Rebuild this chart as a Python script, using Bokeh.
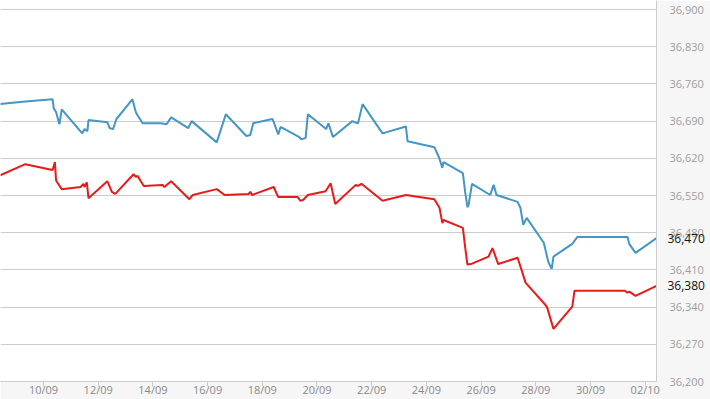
from datetime import datetime, timedelta
from bokeh.plotting import figure
from bokeh.models import FixedTicker, NumeralTickFormatter, DatetimeTickFormatter, Range1d, LinearAxis
from bokeh.embed import file_html
from bokeh.resources import INLINE

# ---- data ----
blue_times = ["2024-09-08 10:00", "2024-09-09 08:00", "2024-09-10 08:00", "2024-09-10 09:00", "2024-09-10 11:00",
              "2024-09-10 14:00", "2024-09-10 16:00", "2024-09-11 10:00", "2024-09-11 12:00", "2024-09-11 14:30",
              "2024-09-11 15:30", "2024-09-12 08:00", "2024-09-12 10:00", "2024-09-12 13:00", "2024-09-12 16:00",
              "2024-09-13 06:00", "2024-09-13 09:00", "2024-09-13 10:30", "2024-09-13 15:00", "2024-09-14 07:00",
              "2024-09-14 12:00", "2024-09-14 16:00", "2024-09-15 07:00", "2024-09-15 10:00", "2024-09-16 08:00",
              "2024-09-16 16:00", "2024-09-17 10:00", "2024-09-17 13:30", "2024-09-17 16:00", "2024-09-18 09:00",
              "2024-09-18 14:00", "2024-09-18 16:00", "2024-09-19 08:30", "2024-09-19 10:00", "2024-09-19 14:00",
              "2024-09-19 16:00", "2024-09-20 08:00", "2024-09-20 10:00", "2024-09-20 14:00", "2024-09-21 07:00",
              "2024-09-21 09:00", "2024-09-21 12:00", "2024-09-21 16:00", "2024-09-22 09:30", "2024-09-23 06:00",
              "2024-09-23 07:30", "2024-09-24 07:00", "2024-09-24 11:00", "2024-09-24 14:00", "2024-09-24 15:00",
              "2024-09-25 08:00", "2024-09-25 10:00", "2024-09-25 12:00", "2024-09-25 13:00", "2024-09-25 16:00",
              "2024-09-26 08:00", "2024-09-26 11:00", "2024-09-26 13:30", "2024-09-27 08:00", "2024-09-27 10:30",
              "2024-09-27 13:00", "2024-09-27 16:00", "2024-09-28 07:00", "2024-09-28 11:00", "2024-09-28 14:00",
              "2024-09-28 15:30", "2024-09-29 08:00", "2024-09-29 12:30", "2024-10-01 08:30", "2024-10-01 10:00",
              "2024-10-01 15:30", "2024-10-02 10:00"]
blue_values = [36722, 36727, 36731, 36714, 36707, 36684, 36712, 36667, 36675, 36671,
               36692, 36688, 36677, 36675, 36694, 36731, 36707, 36701, 36686, 36686,
               36684, 36697, 36677, 36690, 36650, 36703, 36662, 36664, 36686, 36694,
               36665, 36679, 36660, 36656, 36658, 36703, 36675, 36686, 36660, 36690,
               36688, 36686, 36722, 36667, 36680, 36652, 36641, 36622, 36602, 36613,
               36592, 36557, 36528, 36532, 36572, 36551, 36570, 36551, 36538, 36527,
               36495, 36508, 36461, 36425, 36412, 36435, 36459, 36472, 36472, 36459,
               36442, 36470]

red_times = ["2024-09-08 10:00", "2024-09-09 08:00", "2024-09-10 08:00", "2024-09-10 10:00", "2024-09-10 11:00",
             "2024-09-10 12:00", "2024-09-10 16:00", "2024-09-11 08:30", "2024-09-11 11:00", "2024-09-11 12:00",
             "2024-09-11 14:00", "2024-09-11 15:30", "2024-09-12 08:00", "2024-09-12 12:00", "2024-09-12 15:00",
             "2024-09-13 07:00", "2024-09-13 09:00", "2024-09-13 10:30", "2024-09-13 16:00", "2024-09-14 08:30",
             "2024-09-14 10:00", "2024-09-14 16:00", "2024-09-15 08:00", "2024-09-15 11:00", "2024-09-16 08:00",
             "2024-09-16 15:00", "2024-09-17 12:00", "2024-09-17 13:30", "2024-09-17 15:00", "2024-09-18 10:00",
             "2024-09-18 14:00", "2024-09-19 07:00", "2024-09-19 09:30", "2024-09-19 12:00", "2024-09-19 16:00",
             "2024-09-20 07:30", "2024-09-20 12:00", "2024-09-20 16:00", "2024-09-21 10:00", "2024-09-21 12:00",
             "2024-09-21 15:00", "2024-09-22 09:30", "2024-09-23 06:00", "2024-09-24 07:00", "2024-09-24 10:00",
             "2024-09-24 11:30", "2024-09-24 14:00", "2024-09-24 15:00", "2024-09-25 08:00", "2024-09-25 10:00",
             "2024-09-25 12:00", "2024-09-25 15:00", "2024-09-26 06:30", "2024-09-26 10:00", "2024-09-26 15:00",
             "2024-09-27 08:00", "2024-09-27 11:30", "2024-09-27 15:00", "2024-09-28 08:30", "2024-09-28 10:00",
             "2024-09-28 15:30", "2024-09-29 08:00", "2024-09-29 10:00", "2024-10-01 06:00", "2024-10-01 08:30",
             "2024-10-01 10:00", "2024-10-01 15:30", "2024-10-02 10:00"]
red_values = [36588, 36609, 36598, 36613, 36579, 36575, 36562, 36566, 36572, 36566,
              36575, 36545, 36577, 36557, 36553, 36590, 36585, 36587, 36568, 36570,
              36566, 36577, 36543, 36551, 36562, 36551, 36553, 36557, 36551, 36566,
              36547, 36547, 36540, 36542, 36551, 36558, 36573, 36534, 36570, 36568,
              36572, 36540, 36551, 36543, 36532, 36527, 36498, 36504, 36489, 36453,
              36420, 36421, 36435, 36451, 36421, 36433, 36410, 36386, 36344, 36339,
              36299, 36341, 36371, 36371, 36367, 36369, 36361, 36380]

y_ticks = [36200, 36270, 36340, 36410, 36480, 36550, 36620, 36690, 36760, 36830, 36900]
x_tick_dates = ["2024-09-10", "2024-09-12", "2024-09-14", "2024-09-16", "2024-09-18", "2024-09-20",
                "2024-09-22", "2024-09-24", "2024-09-26", "2024-09-28", "2024-09-30", "2024-10-02"]

# ---- build ----
def to_dt(s):
    return datetime.strptime(s, "%Y-%m-%d %H:%M")

bt = [to_dt(s) for s in blue_times]
rt = [to_dt(s) for s in red_times]
x_start = datetime(2024, 9, 8, 10, 16)
x_end = datetime(2024, 10, 2, 9, 55)

FONT = "Open Sans"

p = figure(width=710, height=399, output_backend="svg", toolbar_location=None,
           x_axis_type="datetime", x_range=Range1d(x_start, x_end),
           y_range=Range1d(36200, 36917), y_axis_location=None,
           min_border_left=0, min_border_right=54, min_border_top=0, min_border_bottom=17)
p.background_fill_color = "white"
p.border_fill_color = "#f6f6f6"
p.outline_line_color = None

# right axis (grey tick labels)
ax = LinearAxis(ticker=FixedTicker(ticks=y_ticks), formatter=NumeralTickFormatter(format="0,0"))
ax.axis_line_color = "#cccccc"
ax.major_tick_line_color = None
ax.minor_tick_line_color = None
ax.major_tick_out = 0
ax.major_tick_in = 0
ax.major_label_standoff = 13
ax.major_label_text_font = FONT
ax.major_label_text_font_size = "11px"
ax.major_label_text_color = "#9d9d9d"
p.add_layout(ax, "right")

# second right axis: last values in black, pulled back over the grey labels
last_vals = [blue_values[-1], red_values[-1]]
ax2 = LinearAxis(ticker=FixedTicker(ticks=last_vals), formatter=NumeralTickFormatter(format="0,0"))
ax2.axis_line_color = None
ax2.major_tick_line_color = None
ax2.minor_tick_line_color = None
ax2.major_tick_out = 0
ax2.major_tick_in = 0
ax2.major_label_standoff = -39
ax2.major_label_text_font = FONT
ax2.major_label_text_font_size = "12px"
ax2.major_label_text_color = "#111111"
p.add_layout(ax2, "right")

# bottom axis
xa = p.xaxis[0]
xa.ticker = FixedTicker(ticks=[datetime.strptime(d, "%Y-%m-%d").timestamp() * 1000 for d in x_tick_dates])
xa.formatter = DatetimeTickFormatter(days="%d/%m", months="%d/%m", hours="%d/%m", years="%d/%m")
xa.axis_line_color = "#cccccc"
xa.major_tick_line_color = "#cccccc"
xa.minor_tick_line_color = None
xa.major_tick_out = 5
xa.major_tick_in = 0
xa.major_label_standoff = -5
xa.major_label_text_font = FONT
xa.major_label_text_font_size = "11px"
xa.major_label_text_color = "#8a8a8a"

p.xgrid.grid_line_color = None
p.ygrid.ticker = FixedTicker(ticks=y_ticks)
p.ygrid.grid_line_color = "#cccccc"
p.ygrid.grid_line_width = 1

p.line(bt, blue_values, line_color="#4396c6", line_width=2)
p.line(rt, red_values, line_color="#ea1a1a", line_width=2)

open("out.html", "w").write(file_html(p, INLINE))
